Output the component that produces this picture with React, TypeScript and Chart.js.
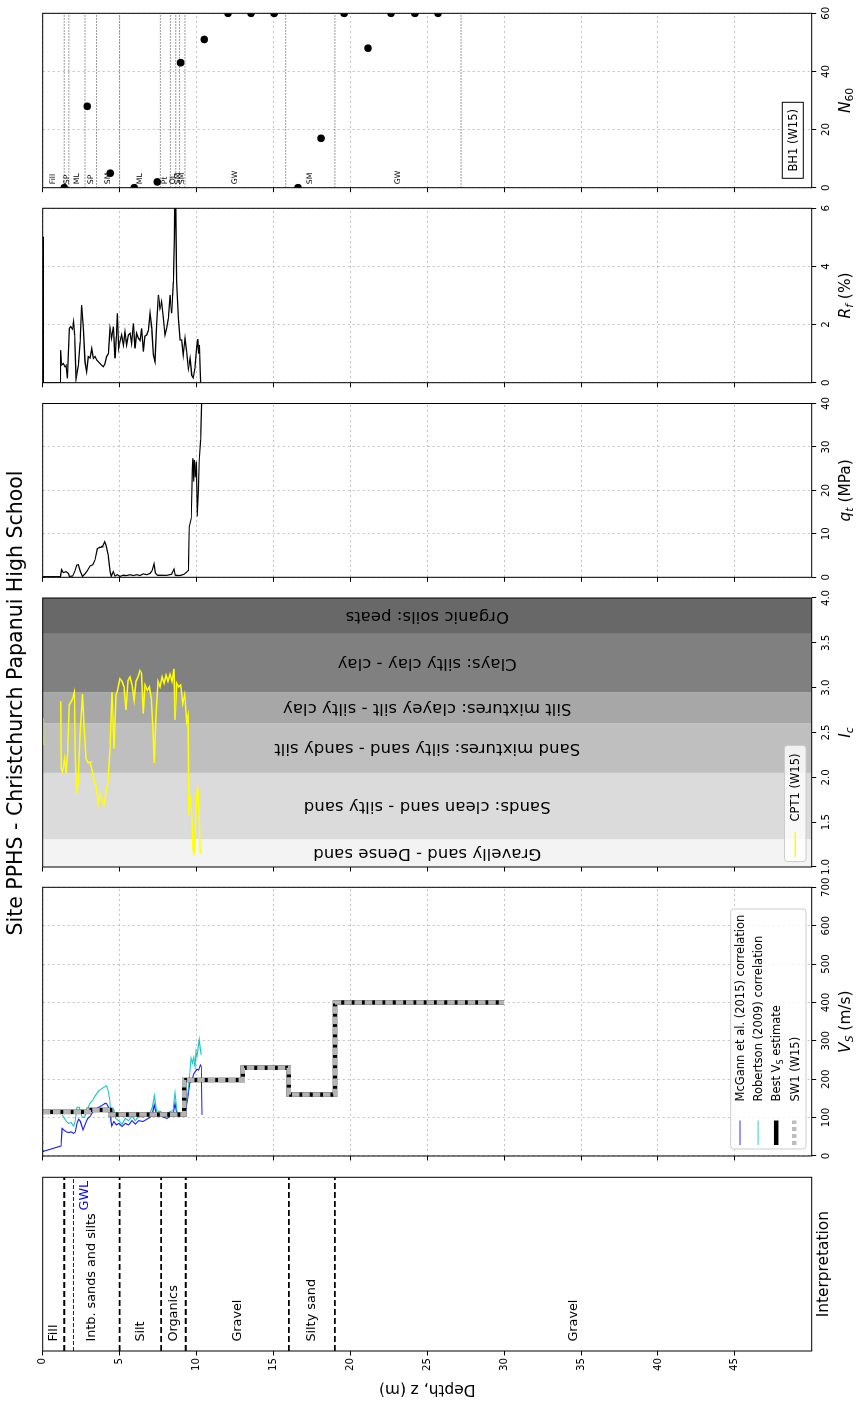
import React, { useEffect, useRef } from 'react';
import { Chart, registerables } from 'chart.js';

Chart.register(...registerables);

const FONT = '"DejaVu Sans", "Liberation Sans", sans-serif';
Chart.defaults.font.family = FONT;

/* ---------------- figure text ---------------- */
const FIG_TITLE = 'Site PPHS - Christchurch Papanui High School';
const DEPTH_TITLE = 'Depth, z (m)';

/* ---------------- depth axis ---------------- */
const DEPTH_MIN = 0;
const DEPTH_MAX = 50;
const DEPTH_STEP = 5;
const DEPTH_LAST_TICK = 45;

/* ---------------- interpretation ---------------- */
const interpLayerTops = [0, 1.4, 5.0, 7.7, 9.3, 16.0, 19.0];
const interpLayerBottoms = [1.4, 5.0, 7.7, 9.3, 16.0, 19.0, 50];
const interpBoundaries = [1.4, 5.0, 7.7, 9.3, 16.0, 19.0];
const interpLabels = ['Fill', 'Intb. sands and silts', 'Silt', 'Organics', 'Gravel', 'Silty sand', 'Gravel'];
const gwlDepth = 2.0;

/* ---------------- Vs ---------------- */
const bestTops = [0, 3.0, 4.4, 9.2, 13.0, 16.0, 19.0];
const bestBottoms = [3.0, 4.4, 9.2, 13.0, 16.0, 19.0, 30.0];
const bestVs = [115, 120, 108, 198, 230, 160, 400];
const sw1Vs = [115, 120, 108, 198, 230, 160, 400];

const mcgannDepth = [0.0, 0.11, 1.19, 1.26, 1.37, 1.54, 1.69, 1.84, 2.02, 2.12, 2.23, 2.34, 2.45, 2.62, 2.77, 2.93, 3.10, 3.27, 3.42, 3.64, 3.86, 4.01, 4.14, 4.27, 4.40, 4.49, 4.62, 4.79, 4.96, 5.16, 5.37, 5.59, 5.81, 6.02, 6.24, 6.52, 6.78, 7.00, 7.13, 7.26, 7.39, 7.65, 7.87, 8.08, 8.30, 8.47, 8.60, 8.73, 8.95, 9.17, 9.30, 9.43, 9.56, 9.71, 9.82, 9.92, 10.03, 10.14, 10.25, 10.31, 10.36];
const mcgannVs = [11, 13, 26, 72, 68, 63, 61, 63, 59, 63, 85, 96, 90, 68, 83, 98, 104, 116, 122, 127, 132, 136, 137, 127, 101, 78, 90, 81, 85, 77, 85, 81, 92, 83, 92, 90, 96, 101, 111, 133, 110, 104, 101, 98, 104, 107, 137, 107, 104, 104, 120, 150, 190, 198, 214, 220, 226, 224, 237, 233, 107];

const robDepth = [0.0, 0.07, 0.6, 1.26, 1.37, 1.54, 1.69, 1.84, 2.02, 2.12, 2.23, 2.38, 2.56, 2.71, 2.88, 3.06, 3.23, 3.42, 3.64, 3.79, 3.97, 4.14, 4.25, 4.36, 4.46, 4.62, 4.75, 4.94, 5.16, 5.37, 5.59, 5.81, 6.02, 6.24, 6.52, 6.78, 7.00, 7.13, 7.26, 7.39, 7.65, 7.87, 8.08, 8.30, 8.47, 8.60, 8.73, 8.95, 9.17, 9.30, 9.43, 9.56, 9.64, 9.73, 9.82, 9.90, 9.97, 10.03, 10.12, 10.18, 10.25, 10.31];
const robVs = [35, 33, null, 107, 101, 90, 85, 87, 78, 92, 127, 127, 101, 101, 118, 137, 144, 157, 170, 174, 179, 183, 172, 146, 98, 122, 98, 92, 83, 98, 92, 104, 92, 103, 101, 107, 113, 127, 157, 118, 116, 111, 110, 116, 118, 165, 116, 107, 110, 127, 163, 214, 255, 242, 257, 233, 272, 259, 287, 304, 277, 263];

/* ---------------- Ic ---------------- */
const icZoneEdges = [1.0, 1.31, 2.05, 2.6, 2.95, 3.6, 4.0];
const icZoneColors = ['#f3f3f3', '#dbdbdb', '#bfbfbf', '#a7a7a7', '#808080', '#686868'];
const icZoneLabels = [
  'Gravelly sand - Dense sand',
  'Sands: clean sand - silty sand',
  'Sand mixtures: silty sand - sandy silt',
  'Silt mixtures: clayey silt - silty clay',
  'Clays: silty clay - clay',
  'Organic soils: peats',
];
const icDepth = [0.03, 0.05, 0.6, 1.17, 1.21, 1.28, 1.34, 1.43, 1.52, 1.62, 1.73, 1.84, 1.95, 2.06, 2.12, 2.19, 2.30, 2.43, 2.58, 2.69, 2.82, 2.95, 3.08, 3.21, 3.34, 3.47, 3.62, 3.72, 3.83, 3.99, 4.12, 4.25, 4.38, 4.51, 4.64, 4.77, 4.87, 5.02, 5.16, 5.29, 5.42, 5.55, 5.68, 5.81, 5.94, 6.07, 6.20, 6.33, 6.43, 6.54, 6.65, 6.80, 6.93, 7.06, 7.15, 7.26, 7.37, 7.50, 7.63, 7.76, 7.89, 8.02, 8.15, 8.28, 8.41, 8.54, 8.60, 8.71, 8.84, 8.97, 9.10, 9.23, 9.36, 9.45, 9.51, 9.60, 9.69, 9.78, 9.84, 9.93, 10.01, 10.08, 10.16, 10.25];
const icValue = [2.66, 2.36, null, 2.85, 2.10, 2.06, 2.10, 2.21, 2.04, 2.25, 2.81, 2.84, 2.88, 2.95, 2.25, 1.82, 1.93, 2.47, 2.93, 2.58, 2.21, 2.16, 2.17, 2.08, 1.97, 1.91, 1.71, 1.82, 1.77, 1.69, 1.84, 1.95, 2.32, 2.95, 2.32, 2.92, 2.97, 3.10, 3.07, 3.01, 2.75, 3.08, 3.12, 3.03, 2.86, 3.07, 3.12, 3.19, 3.16, 2.71, 3.03, 2.97, 3.01, 2.88, 2.58, 2.16, 2.69, 3.07, 3.01, 3.12, 3.05, 3.14, 3.07, 3.15, 3.07, 3.21, 2.64, 3.05, 3.01, 3.03, 2.82, 2.92, 2.62, 2.69, 1.58, 1.80, 1.58, 1.21, 1.13, 1.50, 1.80, 1.90, 1.62, 1.15];

/* ---------------- qt ---------------- */
const qtDepth = [0.00, 1.15, 1.23, 1.34, 1.52, 1.67, 1.73, 1.95, 2.10, 2.21, 2.32, 2.43, 2.58, 2.75, 2.90, 3.08, 3.25, 3.40, 3.55, 3.66, 3.77, 3.90, 4.03, 4.12, 4.25, 4.38, 4.46, 4.59, 4.70, 4.85, 5.02, 5.24, 5.46, 5.68, 5.89, 6.11, 6.33, 6.54, 6.76, 6.98, 7.11, 7.24, 7.32, 7.45, 7.73, 8.06, 8.38, 8.54, 8.62, 8.93, 9.19, 9.36, 9.47, 9.53, 9.66, 9.73, 9.77, 9.82, 9.86, 9.92, 9.99, 10.05, 10.12, 10.18, 10.27, 10.35];
const qtValue = [0.1, 0.15, 1.8, 1.1, 1.3, 0.9, 0.2, 0.3, 1.5, 2.8, 2.9, 1.5, 0.2, 0.8, 1.5, 2.6, 2.9, 4.0, 6.6, 6.8, 6.9, 7.2, 8.2, 7.3, 5.2, 1.3, 0.2, 1.3, 0.3, 0.6, 0.2, 0.5, 0.4, 0.6, 0.4, 0.6, 0.4, 0.8, 0.6, 0.9, 1.5, 3.1, 1.0, 0.5, 0.4, 0.5, 0.7, 1.9, 0.5, 0.4, 0.7, 1.2, 1.6, 11.6, 13.6, 25.0, 27.4, 22.0, 27.0, 23.0, 26.6, 14.0, 20.1, 27.0, 31.6, 42];

/* ---------------- Rf ---------------- */
const rfDepth = [0.00, 0.02, 0.04, 0.05, 1.15, 1.17, 1.23, 1.34, 1.45, 1.52, 1.60, 1.73, 1.82, 1.93, 2.01, 2.08, 2.17, 2.32, 2.43, 2.53, 2.64, 2.75, 2.86, 2.97, 3.08, 3.19, 3.30, 3.40, 3.51, 3.62, 3.73, 3.83, 3.94, 4.05, 4.16, 4.27, 4.38, 4.48, 4.59, 4.70, 4.79, 4.85, 4.94, 5.02, 5.13, 5.24, 5.35, 5.46, 5.57, 5.68, 5.78, 5.89, 6.00, 6.11, 6.22, 6.33, 6.43, 6.54, 6.65, 6.76, 6.87, 6.98, 7.09, 7.19, 7.30, 7.41, 7.52, 7.63, 7.73, 7.84, 7.95, 8.06, 8.17, 8.28, 8.38, 8.49, 8.56, 8.60, 8.64, 8.71, 8.82, 8.93, 9.03, 9.14, 9.25, 9.36, 9.47, 9.58, 9.69, 9.79, 9.90, 10.01, 10.08, 10.14, 10.19, 10.23, 10.27];
const rfValue = [0, 5.0, 5.0, 0, 0, 1.12, 0.61, 0.66, 0.55, 0.6, 0.15, 1.87, 1.93, 1.85, 2.1, 1.64, 0.15, 0.6, 1.4, 2.67, 1.87, 0.72, 0.38, 0.9, 0.85, 1.18, 0.84, 0.9, 0.78, 0.72, 0.66, 0.6, 0.55, 0.65, 0.9, 1.0, 1.87, 1.53, 1.93, 0.84, 1.6, 2.39, 1.18, 1.4, 1.64, 1.3, 1.75, 1.3, 1.64, 1.7, 1.35, 2.04, 1.18, 1.7, 1.53, 1.45, 1.87, 1.07, 1.6, 1.64, 1.8, 2.39, 1.87, 0.95, 0.72, 2.0, 3.02, 2.56, 2.79, 2.22, 1.64, 1.87, 2.22, 3.02, 2.39, 3.48, 4.97, 6.5, 6.5, 3.48, 2.22, 1.47, 1.47, 0.95, 1.53, 1.07, 0.49, 0.84, 0.26, 0.17, 0.49, 1.2, 1.5, 1.0, 1.3, 0.5, 0.0];

/* ---------------- N60 ---------------- */
const n60Depth = [1.4, 2.9, 4.4, 5.95, 7.45, 8.97, 10.5, 12.05, 13.55, 15.05, 16.6, 18.1, 19.6, 21.15, 22.65, 24.2, 25.7];
const n60Value = [0, 28, 5, 0, 2, 43, 51, 60, 60, 60, 0, 17, 60, 48, 60, 60, 60];
const soilTops = [0, 1.4, 1.7, 2.75, 3.5, 5.0, 7.65, 8.3, 8.65, 8.9, 9.25, 15.8, 19.0];
const soilBottoms = [1.4, 1.7, 2.75, 3.5, 5.0, 7.65, 8.3, 8.65, 8.9, 9.25, 15.8, 19.0, 27.2];
const soilLabels = ['Fill', 'SP', 'ML', 'SP', 'SM', 'ML', 'Pt', 'OL', 'SM', 'SM', 'GW', 'SM', 'GW'];

/* ---------------- legends ---------------- */
const vsLegendLabels = ['McGann et al. (2015) correlation', 'Robertson (2009) correlation', 'Best V|S| estimate', 'SW1 (W15)'];
const icLegendLabel = 'CPT1 (W15)';
const n60BoxLabel = 'BH1 (W15)';

/* ================= layout (unrotated figure frame) ================= */
const W = 1403;
const H = 860;
const PLOT_TOP = 42.7;
const PLOT_BOTTOM = 811.7;
const AX_W = 10;
const AX_W_LABELLED = 48;
const AX_H = 30;
const GRID_COLOR = 'rgba(185,185,185,0.85)';
const TICK_FONT = { family: FONT, size: 10.2 };
const PANELS = {
  interp: [52, 225.7],
  vs: [247, 515.7],
  ic: [536, 805],
  qt: [825.7, 999.5],
  rf: [1020.3, 1194.7],
  n60: [1215.3, 1389.7],
};

type Part = { t: string; it?: boolean; sub?: boolean };

function fontOf(p: Part, size: number) {
  const s = p.sub ? size * 0.7 : size;
  return `${p.it ? 'italic ' : ''}${s}px ${FONT}`;
}
function drawRich(ctx: any, parts: Part[], x: number, y: number, size: number, align = 'center', color = '#000') {
  const widths = parts.map((p) => {
    ctx.font = fontOf(p, size);
    return ctx.measureText(p.t).width;
  });
  const total = widths.reduce((a, b) => a + b, 0);
  let cx = align === 'center' ? x - total / 2 : align === 'right' ? x - total : x;
  ctx.save();
  ctx.fillStyle = color;
  ctx.textAlign = 'left';
  ctx.textBaseline = 'alphabetic';
  parts.forEach((p, i) => {
    ctx.font = fontOf(p, size);
    ctx.fillText(p.t, cx, y + (p.sub ? size * 0.24 : 0));
    cx += widths[i];
  });
  ctx.restore();
}

function zip(depths: number[], vals: (number | null)[]) {
  const n = Math.min(depths.length, vals.length);
  const out: any[] = [];
  for (let i = 0; i < n; i++) out.push({ x: vals[i], y: depths[i] });
  return out;
}
function stepProfile(tops: number[], bottoms: number[], vals: number[]) {
  const out: any[] = [];
  for (let i = 0; i < vals.length; i++) {
    out.push({ x: vals[i], y: tops[i] });
    out.push({ x: vals[i], y: bottoms[i] });
  }
  return out;
}
function hLine(d: number, x0: number, x1: number) {
  return [{ x: x0, y: d }, { x: x1, y: d }];
}
function lineDS(data: any[], color: string, width: number, extra: any = {}) {
  return {
    data,
    borderColor: color,
    backgroundColor: color,
    borderWidth: width,
    pointRadius: 0,
    pointHoverRadius: 0,
    fill: false,
    tension: 0,
    clip: 0,
    ...extra,
  };
}

function depthAxis(showLabels: boolean, showGrid: boolean) {
  const w = showLabels ? AX_W_LABELLED : AX_W;
  return {
    type: 'linear',
    position: 'left',
    reverse: true,
    min: DEPTH_MIN,
    max: DEPTH_MAX,
    afterFit: (s: any) => {
      s.width = w;
    },
    afterBuildTicks: (s: any) => {
      s.ticks = s.ticks.filter((t: any) => t.value <= DEPTH_LAST_TICK);
    },
    ticks: { stepSize: DEPTH_STEP, display: showLabels, color: '#000', font: TICK_FONT, padding: 2.5, autoSkip: false },
    grid: { display: true, drawOnChartArea: showGrid, color: GRID_COLOR, lineWidth: 1, drawTicks: true, tickLength: 4.5, tickColor: '#000', tickWidth: 1 },
    border: { display: false, dash: [2, 3] },
  };
}
function valueAxis(min: number, max: number, step: number, showGrid: boolean, fmt?: (v: number) => string) {
  return {
    type: 'linear',
    position: 'bottom',
    min,
    max,
    afterFit: (s: any) => {
      s.height = AX_H;
    },
    ticks: {
      stepSize: step,
      color: '#000',
      font: TICK_FONT,
      padding: 4.5,
      autoSkip: false,
      maxRotation: 0,
      minRotation: 0,
      callback: fmt ? (v: any) => fmt(Number(v)) : (v: any) => String(v),
    },
    grid: { display: true, drawOnChartArea: showGrid, color: GRID_COLOR, lineWidth: 1, drawTicks: true, tickLength: 4.5, tickColor: '#000', tickWidth: 1 },
    border: { display: false, dash: [2, 3] },
  };
}
function baseOptions(panel: number[], xAxis: any, yAxis: any, yW = AX_W) {
  return {
    responsive: false,
    maintainAspectRatio: false,
    animation: false,
    events: [],
    layout: { padding: { left: panel[0] - yW, right: W - panel[1], top: PLOT_TOP, bottom: H - PLOT_BOTTOM - AX_H } },
    plugins: { legend: { display: false }, tooltip: { enabled: false }, title: { display: false } },
    scales: { x: xAxis, y: yAxis },
  };
}

const framePlugin = {
  id: 'frame',
  afterDatasetsDraw(chart: any) {
    const { ctx, chartArea: a } = chart;
    ctx.save();
    ctx.strokeStyle = '#000';
    ctx.lineWidth = 1;
    ctx.strokeRect(a.left, a.top, a.right - a.left, a.bottom - a.top);
    ctx.restore();
  },
};
function axisTitle(parts: Part[], baseline: number, size = 15.4) {
  return {
    id: 'axisTitle',
    afterDraw(chart: any) {
      const a = chart.chartArea;
      drawRich(chart.ctx, parts, (a.left + a.right) / 2, baseline, size);
    },
  };
}
function legendBox(ctx: any, x: number, y: number, w: number, h: number) {
  ctx.save();
  ctx.beginPath();
  if (ctx.roundRect) ctx.roundRect(x, y, w, h, 3);
  else ctx.rect(x, y, w, h);
  ctx.fillStyle = 'rgba(255,255,255,0.8)';
  ctx.fill();
  ctx.strokeStyle = '#cccccc';
  ctx.lineWidth = 1;
  ctx.stroke();
  ctx.restore();
}
function handle(ctx: any, x0: number, x1: number, y: number, color: string, width: number, dash: number[]) {
  ctx.save();
  ctx.strokeStyle = color;
  ctx.lineWidth = width;
  ctx.setLineDash(dash);
  ctx.beginPath();
  ctx.moveTo(x0, y);
  ctx.lineTo(x1, y);
  ctx.stroke();
  ctx.restore();
}

/* ================= chart configs ================= */
function interpConfig() {
  const datasets: any[] = interpBoundaries.map((d) => lineDS(hLine(d, 0, 1), '#000', 1.8, { borderDash: [6, 3] }));
  datasets.push(lineDS(hLine(gwlDepth, 0, 1), '#0000ff', 1, { borderDash: [4, 2] }));
  const xAxis = {
    type: 'linear',
    position: 'bottom',
    min: 0,
    max: 1,
    afterFit: (s: any) => {
      s.height = AX_H;
    },
    ticks: { display: false },
    grid: { display: false },
    border: { display: false },
  };
  const textPlugin = {
    id: 'interpText',
    afterDraw(chart: any) {
      const { ctx, chartArea: a, scales } = chart;
      const x = scales.x;
      const y = scales.y;
      ctx.save();
      ctx.fillStyle = '#000';
      ctx.font = `12.8px ${FONT}`;
      ctx.textAlign = 'left';
      ctx.textBaseline = 'middle';
      interpLabels.forEach((lab, i) => {
        const mid = (interpLayerTops[i] + interpLayerBottoms[i]) / 2;
        ctx.fillText(lab, x.getPixelForValue(0.054), y.getPixelForValue(mid));
      });
      ctx.fillStyle = '#0000ff';
      ctx.textAlign = 'right';
      ctx.textBaseline = 'alphabetic';
      ctx.fillText('GWL', x.getPixelForValue(0.98), y.getPixelForValue(gwlDepth) + 14.5);
      // figure title
      ctx.fillStyle = '#000';
      ctx.textAlign = 'center';
      ctx.font = `20.5px ${FONT}`;
      ctx.fillText(FIG_TITLE, 700, 22.3);
      // depth title
      ctx.font = `15.4px ${FONT}`;
      ctx.translate(18, (a.top + a.bottom) / 2);
      ctx.rotate(-Math.PI / 2);
      ctx.fillText(DEPTH_TITLE, 0, 0);
      ctx.restore();
    },
  };
  return {
    type: 'line',
    data: { datasets },
    options: baseOptions(PANELS.interp, xAxis, depthAxis(true, false), AX_W_LABELLED),
    plugins: [framePlugin, textPlugin, axisTitle([{ t: 'Interpretation' }], 828)],
  };
}

function vsConfig() {
  // Chart.js paints dataset 0 last (on top)
  const datasets = [
    lineDS(stepProfile(bestTops, bestBottoms, sw1Vs), '#b4b4b4', 4.5, { borderDash: [7.5, 2.8] }),
    lineDS(stepProfile(bestTops, bestBottoms, bestVs), '#000', 4.5),
    lineDS(zip(robDepth, robVs), 'rgba(0,191,191,0.9)', 1.1),
    lineDS(zip(mcgannDepth, mcgannVs), 'rgba(0,0,255,0.9)', 1.1),
  ];
  const legendPlugin = {
    id: 'vsLegend',
    afterDatasetsDraw(chart: any) {
      const { ctx, chartArea: a } = chart;
      const bw = 240;
      const bh = 75.3;
      const bx = a.left + 7;
      const by = a.bottom - 5.7 - bh;
      legendBox(ctx, bx, by, bw, bh);
      const styles = [
        { color: 'rgba(70,70,255,0.75)', width: 1.5, dash: [] as number[] },
        { color: 'rgba(70,210,210,0.75)', width: 1.5, dash: [] as number[] },
        { color: '#000', width: 4.5, dash: [] as number[] },
        { color: '#bdbdbd', width: 4.5, dash: [4, 3] },
      ];
      vsLegendLabels.forEach((lab, i) => {
        const cy = by + 9.3 + i * 18.1;
        const st = styles[i];
        handle(ctx, bx + 4, bx + 28.5, cy, st.color, st.width, st.dash);
        const parts: Part[] = lab.split('|').map((t, k) => ({ t, sub: k % 2 === 1 })).filter((p) => p.t.length);
        drawRich(ctx, parts, bx + 47.5, cy + 4.2, 11.5, 'left');
      });
    },
  };
  return {
    type: 'line',
    data: { datasets },
    options: baseOptions(PANELS.vs, valueAxis(0, 700, 100, true), depthAxis(false, true)),
    plugins: [framePlugin, legendPlugin, axisTitle([{ t: 'V', it: true }, { t: 'S', it: true, sub: true }, { t: ' (m/s)' }], 849.5)],
  };
}

function icConfig() {
  const datasets = [lineDS(zip(icDepth, icValue), '#ffff00', 1.5)];
  const bandsPlugin = {
    id: 'icBands',
    beforeDatasetsDraw(chart: any) {
      const { ctx, chartArea: a, scales } = chart;
      const x = scales.x;
      const y = scales.y;
      ctx.save();
      for (let i = 0; i < icZoneColors.length; i++) {
        const x0 = x.getPixelForValue(icZoneEdges[i]);
        const x1 = x.getPixelForValue(icZoneEdges[i + 1]);
        ctx.fillStyle = icZoneColors[i];
        ctx.fillRect(x0, a.top, x1 - x0, a.bottom - a.top);
      }
      ctx.fillStyle = '#000';
      ctx.font = `16.6px ${FONT}`;
      ctx.textAlign = 'center';
      ctx.textBaseline = 'middle';
      for (let i = 0; i < icZoneLabels.length; i++) {
        const cx = x.getPixelForValue((icZoneEdges[i] + icZoneEdges[i + 1]) / 2);
        ctx.save();
        ctx.translate(cx, y.getPixelForValue((DEPTH_MIN + DEPTH_MAX) / 2));
        ctx.rotate(-Math.PI / 2);
        ctx.fillText(icZoneLabels[i], 0, 0);
        ctx.restore();
      }
      ctx.restore();
    },
  };
  const legendPlugin = {
    id: 'icLegend',
    afterDatasetsDraw(chart: any) {
      const { ctx, chartArea: a } = chart;
      const bw = 116;
      const bh = 21.5;
      const bx = a.left + 5.5;
      const by = a.bottom - 5.7 - bh;
      legendBox(ctx, bx, by, bw, bh);
      const cy = by + bh / 2;
      handle(ctx, bx + 4.5, bx + 29.5, cy, '#ffff00', 1.5, []);
      drawRich(ctx, [{ t: icLegendLabel }], bx + 40, cy + 4.2, 11.5, 'left');
    },
  };
  return {
    type: 'line',
    data: { datasets },
    options: baseOptions(PANELS.ic, valueAxis(1, 4, 0.5, false, (v) => v.toFixed(1)), depthAxis(false, false)),
    plugins: [bandsPlugin, framePlugin, legendPlugin, axisTitle([{ t: 'I', it: true }, { t: 'c', it: true, sub: true }], 849.5)],
  };
}

function qtConfig() {
  const datasets = [lineDS(zip(qtDepth, qtValue), '#000', 1.2)];
  return {
    type: 'line',
    data: { datasets },
    options: baseOptions(PANELS.qt, valueAxis(0, 40, 10, true), depthAxis(false, true)),
    plugins: [framePlugin, axisTitle([{ t: 'q', it: true }, { t: 't', it: true, sub: true }, { t: ' (MPa)' }], 849.5)],
  };
}

function rfConfig() {
  const datasets = [lineDS(zip(rfDepth, rfValue), '#000', 1.3)];
  return {
    type: 'line',
    data: { datasets },
    options: baseOptions(PANELS.rf, valueAxis(0, 6, 2, true), depthAxis(false, true)),
    plugins: [framePlugin, axisTitle([{ t: 'R', it: true }, { t: 'f', it: true, sub: true }, { t: ' (%)' }], 849.5)],
  };
}

function n60Config() {
  const points = {
    data: zip(n60Depth, n60Value),
    showLine: false,
    pointRadius: 3.8,
    pointHoverRadius: 3.8,
    pointBackgroundColor: '#000',
    pointBorderWidth: 0,
    borderColor: '#000',
    clip: 0,
  };
  const soilLines = soilBottoms.map((d) => lineDS(hLine(d, 0, 60), '#777777', 1, { borderDash: [1.5, 1.5] }));
  const textPlugin = {
    id: 'n60Text',
    afterDatasetsDraw(chart: any) {
      const { ctx, chartArea: a, scales } = chart;
      const x = scales.x;
      const y = scales.y;
      ctx.save();
      ctx.fillStyle = '#000';
      ctx.font = `7.7px ${FONT}`;
      ctx.textAlign = 'left';
      ctx.textBaseline = 'middle';
      soilLabels.forEach((lab, i) => {
        ctx.fillText(lab, x.getPixelForValue(1.2), y.getPixelForValue((soilTops[i] + soilBottoms[i]) / 2));
      });
      // BH1 box
      const bw = 76;
      const bh = 21;
      const bx = a.left + 9.4;
      const by = a.bottom - 8.4 - bh;
      ctx.fillStyle = '#fff';
      ctx.fillRect(bx, by, bw, bh);
      ctx.strokeStyle = '#000';
      ctx.lineWidth = 1;
      ctx.strokeRect(bx, by, bw, bh);
      ctx.restore();
      drawRich(ctx, [{ t: n60BoxLabel }], bx + bw / 2, by + bh / 2 + 4.2, 11.5, 'center');
    },
  };
  return {
    type: 'line',
    data: { datasets: [points, ...soilLines] },
    options: baseOptions(PANELS.n60, valueAxis(0, 60, 20, true), depthAxis(false, true)),
    plugins: [framePlugin, textPlugin, axisTitle([{ t: 'N', it: true }, { t: '60', sub: true }], 849.5)],
  };
}

export default function App() {
  const canvases = useRef<(HTMLCanvasElement | null)[]>([]);
  useEffect(() => {
    const configs = [interpConfig(), vsConfig(), icConfig(), qtConfig(), rfConfig(), n60Config()];
    const charts = configs.map((cfg, i) => new Chart(canvases.current[i] as HTMLCanvasElement, cfg as any));
    return () => charts.forEach((c) => c.destroy());
  }, []);
  return (
    <div style={{ position: 'fixed', left: 0, top: 0, width: 860, height: 1403, overflow: 'hidden', background: '#fff' }}>
      <div
        style={{
          position: 'absolute',
          left: 0,
          top: 0,
          width: W,
          height: H,
          transformOrigin: '0 0',
          transform: `translateY(${W}px) rotate(-90deg)`,
        }}
      >
        {[0, 1, 2, 3, 4, 5].map((i) => (
          <canvas
            key={i}
            ref={(el) => {
              canvases.current[i] = el;
            }}
            width={W}
            height={H}
            style={{ position: 'absolute', left: 0, top: 0, width: W, height: H }}
          />
        ))}
      </div>
    </div>
  );
}
